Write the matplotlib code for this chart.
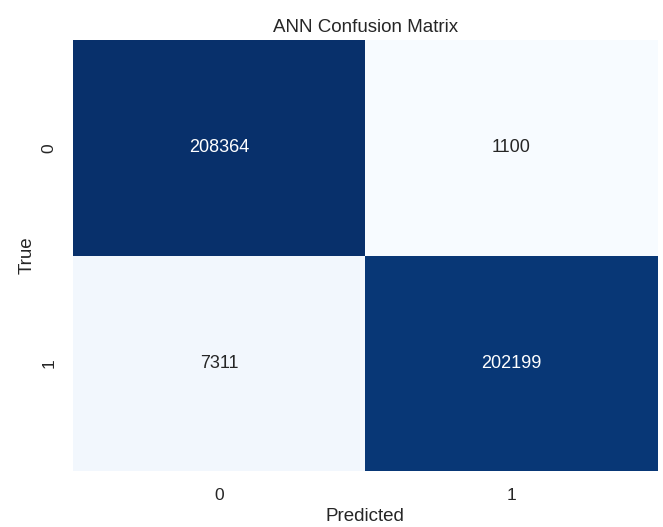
"""ANN confusion matrix heatmap"""

import matplotlib
matplotlib.use('Agg')
import matplotlib.pyplot as plt
import numpy as np
import seaborn as sns

# confusion matrix values
true_labels = ['0', '1']
pred_labels = ['0', '1']
row_0 = [208364, 1100]
row_1 = [7311, 202199]

sns.set_theme(style='white')
plt.rcParams['font.family'] = ['Liberation Sans', 'DejaVu Sans']

cm = np.array([row_0, row_1])

fig = plt.figure(figsize=(6.63, 5.27), dpi=100)
ax = fig.add_axes([0.110, 0.106, 0.882, 0.818])

sns.heatmap(cm, annot=True, fmt='d', cmap='Blues', cbar=False,
            xticklabels=pred_labels, yticklabels=true_labels,
            annot_kws={'fontsize': 13}, ax=ax)

ax.set_title('ANN Confusion Matrix', fontsize=13.5, color='.15')
ax.set_xlabel('Predicted', fontsize=13.5, color='.15')
ax.set_ylabel('True', fontsize=13.5, color='.15')
ax.tick_params(labelsize=12.5, colors='.15', length=0, pad=12)

fig.savefig('out.png', dpi=100)
